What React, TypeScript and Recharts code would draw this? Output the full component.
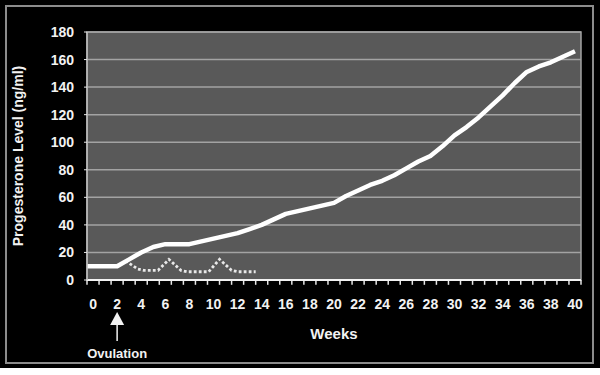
import { LineChart, Line, XAxis, YAxis, CartesianGrid, ReferenceArea, ReferenceDot, ReferenceLine } from 'recharts';

// Progesterone level over pregnancy (solid) vs. a non-conception cycle (dotted)
const weeks = [-0.5, 0, 1, 2, 3, 4, 5, 6, 7, 8, 9, 10, 11, 12, 13, 14, 15, 16, 17, 18, 19, 20,
  21, 22, 23, 24, 25, 26, 27, 28, 29, 30, 31, 32, 33, 34, 35, 36, 37, 38, 39, 40];
const levels = [10, 10, 10, 10, 15, 20, 24, 26, 26, 26, 28, 30, 32, 34, 37, 40, 44, 48, 50, 52, 54, 56,
  61, 65, 69, 72, 76, 81, 86, 90, 97, 105, 111, 118, 126, 134, 143, 151, 155, 158, 162, 166];

const cycleWeeks = [2.7, 3.7, 4.2, 5.4, 6.3, 7.3, 7.8, 9.6, 10.5, 11.5, 12, 13.5];
const cycleLevels = [14, 8, 7, 7, 15, 7, 6, 6, 15, 7, 6, 6];

const xTicks = [0, 2, 4, 6, 8, 10, 12, 14, 16, 18, 20, 22, 24, 26, 28, 30, 32, 34, 36, 38, 40];
const yTicks = [0, 20, 40, 60, 80, 100, 120, 140, 160, 180];
const minorTicks = Array.from({ length: 42 }, (_, i) => i - 0.5);

const ovulationWeek = 2;

const pregnancy = weeks.map((w, i) => ({ week: w, level: levels[i] }));
const cycle = cycleWeeks.map((w, i) => ({ week: w, level: cycleLevels[i] }));

const FONT = '"Liberation Sans", Arial, sans-serif';
const tickStyle = { fill: '#f2f2f2', fontSize: 14, fontWeight: 700, fontFamily: FONT };

function OvulationArrow(props: any) {
  const { cx, cy } = props;
  return (
    <g>
      <polygon points={`${cx},${cy + 32} ${cx - 7},${cy + 45} ${cx + 7},${cy + 45}`} fill="#f2f2f2" />
      <line x1={cx} y1={cy + 45} x2={cx} y2={cy + 61} stroke="#f2f2f2" strokeWidth={1.5} />
      <text x={cx} y={cy + 78} textAnchor="middle" fill="#f2f2f2" fontSize={13} fontWeight={700} fontFamily={FONT}>
        Ovulation
      </text>
    </g>
  );
}

export default function App() {
  return (
    <div style={{ position: 'absolute', left: 0, top: 0, width: 600, height: 375, background: '#fff' }}>
      <div style={{ position: 'absolute', left: 0, top: 0, width: 600, height: 368, background: '#000' }} />
      <div style={{ position: 'absolute', left: 5, top: 5, width: 589, height: 359, boxSizing: 'border-box',
        border: '2px solid #8c8c8c' }} />
      <LineChart width={600} height={375} style={{ position: 'absolute', left: 0, top: 0 }}
        margin={{ top: 32, right: 19, left: 37, bottom: 65 }}>
        <CartesianGrid xAxisId="main" vertical={false} fill="#595959" stroke="#a3a3a3" strokeWidth={1.5} />
        <ReferenceArea xAxisId="main" x1={-0.5} x2={40.5} y1={0} y2={180} fill="none"
          stroke="#a3a3a3" strokeWidth={1.5} ifOverflow="visible" />
        <XAxis xAxisId="main" type="number" dataKey="week" domain={[-0.5, 40.5]} ticks={xTicks}
          allowDataOverflow height={30} tick={tickStyle} tickLine={false} tickSize={6} tickMargin={13}
          interval={0} axisLine={{ stroke: '#f2f2f2', strokeWidth: 2 }}
          label={{
            content: (p: any) => {
              const vb = p.viewBox;
              return (
                <text x={vb.x + vb.width / 2} y={339} textAnchor="middle" fill="#f2f2f2"
                  fontSize={15} fontWeight={700} fontFamily={FONT}>Weeks</text>
              );
            },
          }} />
        <YAxis domain={[0, 180]} ticks={yTicks} width={50} tick={tickStyle} tickSize={3} tickMargin={10}
          tickLine={{ stroke: '#e6e6e6' }} axisLine={{ stroke: '#bdbdbd', strokeWidth: 1.5 }}
          label={{
            content: (p: any) => {
              const vb = p.viewBox;
              const cx = 18;
              const cy = vb.y + vb.height / 2;
              return (
                <text x={cx} y={cy} transform={`rotate(-90 ${cx} ${cy})`} textAnchor="middle"
                  dominantBaseline="central" fill="#f2f2f2" fontSize={14} fontWeight={700} fontFamily={FONT}>
                  Progesterone Level (ng/ml)
                </text>
              );
            },
          }} />
        {/* small marks between week categories, below the axis */}
        {minorTicks.map((t) => (
          <ReferenceLine key={t} xAxisId="main" segment={[{ x: t, y: 0 }, { x: t, y: -3.5 }]}
            stroke="#e6e6e6" strokeWidth={1.5} ifOverflow="visible" />
        ))}
        <Line xAxisId="main" data={cycle} dataKey="level" type="linear" stroke="#e8e8e8" strokeWidth={2.8}
          strokeDasharray="2.8 2.2" dot={false} isAnimationActive={false} />
        <Line xAxisId="main" data={pregnancy} dataKey="level" type="linear" stroke="#ffffff" strokeWidth={4.5}
          strokeLinejoin="round" dot={false} isAnimationActive={false} />
        <ReferenceDot xAxisId="main" x={ovulationWeek} y={0} r={0} ifOverflow="visible" shape={OvulationArrow} />
      </LineChart>
    </div>
  );
}
